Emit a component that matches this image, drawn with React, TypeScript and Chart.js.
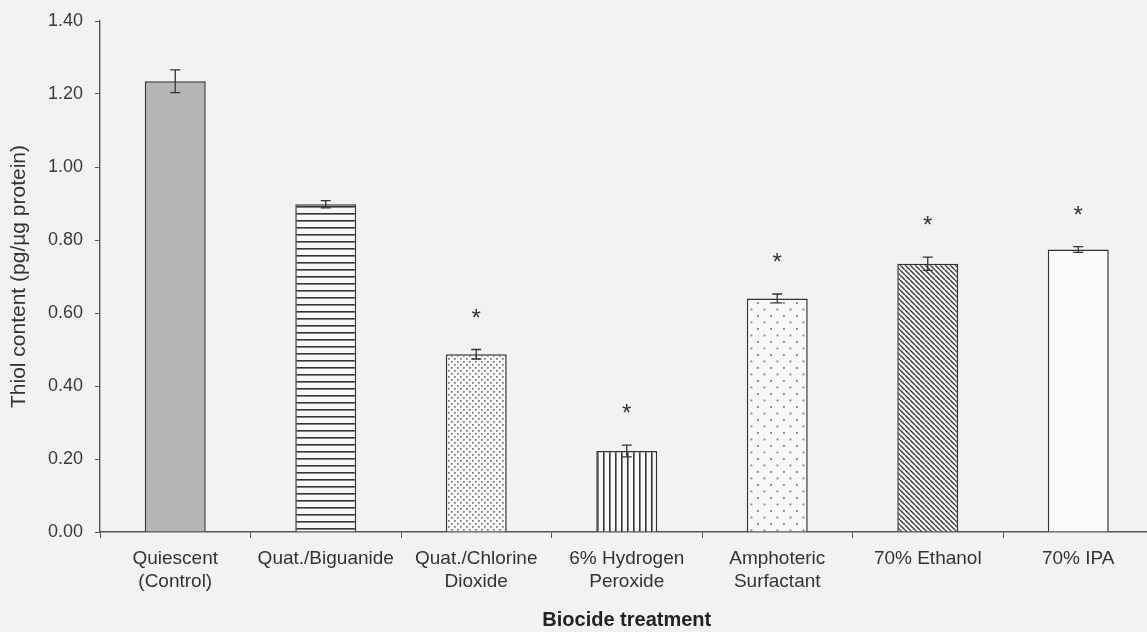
import { useEffect, useRef } from "react";
import { Chart, registerables } from "chart.js";
Chart.register(...registerables);

const categories: (string | string[])[] = [
  ["Quiescent", "(Control)"],
  "Quat./Biguanide",
  ["Quat./Chlorine", "Dioxide"],
  ["6% Hydrogen", "Peroxide"],
  ["Amphoteric", "Surfactant"],
  "70% Ethanol",
  "70% IPA",
];
const thiolMeans = [1.235, 0.898, 0.487, 0.222, 0.64, 0.735, 0.774];
const thiolErrors = [0.031, 0.01, 0.013, 0.016, 0.012, 0.018, 0.008];
const significant = [false, false, true, true, true, true, true];
const yAxisTitle = "Thiol content (pg/µg protein)";
const xAxisTitle = "Biocide treatment";

const FONT = "'Liberation Sans', Arial, sans-serif";

function tile(w: number, h: number, draw: (g: CanvasRenderingContext2D) => void) {
  const c = document.createElement("canvas");
  c.width = w;
  c.height = h;
  const g = c.getContext("2d")!;
  g.fillStyle = "#f8f8f8";
  g.fillRect(0, 0, w, h);
  draw(g);
  return g.createPattern(c, "repeat")!;
}

function makeFills() {
  const solid = "#b5b5b5";
  const hlines = tile(7, 7, (g) => {
    g.fillStyle = "#363636";
    g.fillRect(0, 3, 7, 1.6);
  });
  const denseDots = tile(6, 6, (g) => {
    g.fillStyle = "#777";
    g.fillRect(1, 1, 1.7, 1.7);
    g.fillRect(4, 4, 1.7, 1.7);
  });
  const vlines = tile(6, 6, (g) => {
    g.fillStyle = "#363636";
    g.fillRect(3, 0, 1.6, 6);
  });
  const sparseDots = tile(13, 13, (g) => {
    g.fillStyle = "#888";
    g.fillRect(3, 3, 1.9, 1.9);
    g.fillRect(9.5, 9.5, 1.9, 1.9);
  });
  const diag = tile(5, 5, (g) => {
    g.strokeStyle = "#3a3a3a";
    g.lineWidth = 1.4;
    for (const o of [-5, 0, 5]) {
      g.beginPath();
      g.moveTo(o, 0);
      g.lineTo(o + 5, 5);
      g.stroke();
    }
  });
  const white = "#fbfbfb";
  return [solid, hlines, denseDots, vlines, sparseDots, diag, white];
}

const errorBarPlugin = {
  id: "errorBarsStars",
  afterDatasetsDraw(chart: any) {
    const { ctx, scales } = chart;
    const meta = chart.getDatasetMeta(0);
    const y = scales.y;
    ctx.save();
    meta.data.forEach((bar: any, i: number) => {
      const x = bar.x;
      const top = y.getPixelForValue(thiolMeans[i] + thiolErrors[i]);
      const bot = y.getPixelForValue(thiolMeans[i] - thiolErrors[i]);
      ctx.strokeStyle = "#333";
      ctx.lineWidth = 1.3;
      ctx.beginPath();
      ctx.moveTo(x, top);
      ctx.lineTo(x, bot);
      ctx.moveTo(x - 5, top);
      ctx.lineTo(x + 5, top);
      ctx.moveTo(x - 5, bot);
      ctx.lineTo(x + 5, bot);
      ctx.stroke();
      if (significant[i]) {
        ctx.fillStyle = "#333";
        ctx.font = `24px ${FONT}`;
        ctx.textAlign = "center";
        ctx.textBaseline = "alphabetic";
        ctx.fillText("*", x, top - 24);
      }
    });
    ctx.restore();
  },
};

const bgPlugin = {
  id: "bg",
  beforeDraw(chart: any) {
    const { ctx, width, height } = chart;
    ctx.save();
    ctx.fillStyle = "#f2f2f1";
    ctx.fillRect(0, 0, width, height);
    ctx.restore();
  },
};

export default function App() {
  const ref = useRef<HTMLCanvasElement>(null);
  useEffect(() => {
    document.body.style.margin = "0";
    document.body.style.overflow = "hidden";
    document.body.style.background = "#f2f2f1";
    const canvas = ref.current!;
    const chart = new Chart(canvas, {
      type: "bar",
      data: {
        labels: categories,
        datasets: [
          {
            data: thiolMeans,
            backgroundColor: makeFills() as any,
            borderColor: "#333",
            borderWidth: 1.5,
            categoryPercentage: 1,
            barPercentage: 0.405,
          },
        ],
      },
      options: {
        responsive: false,
        animation: false,
        devicePixelRatio: 1,
        layout: { padding: { top: 19, right: 6.5, left: 0, bottom: 0 } },
        plugins: { legend: { display: false }, tooltip: { enabled: false } },
        scales: {
          x: {
            offset: true,
            grid: {
              offset: true,
              drawOnChartArea: false,
              drawTicks: true,
              tickLength: 6,
              color: "#555",
              lineWidth: 1,
            },
            border: { color: "#555", width: 1.4 },
            ticks: {
              color: "#333",
              padding: 9,
              maxRotation: 0,
              autoSkip: false,
              font: { family: FONT, size: 19, lineHeight: 1.22 },
            },
            title: {
              display: true,
              text: xAxisTitle,
              color: "#222",
              font: { family: FONT, size: 20, weight: "bold", lineHeight: 1.2 },
              padding: { top: 0, bottom: 0 },
            },
            afterFit: (s: any) => {
              s.height = 100;
            },
          },
          y: {
            min: 0,
            max: 1.4,
            grid: {
              drawOnChartArea: false,
              drawTicks: true,
              tickLength: 5,
              color: "#555",
            },
            border: { color: "#555", width: 1.4 },
            ticks: {
              stepSize: 0.2,
              color: "#3a3a3a",
              padding: 12,
              font: { family: FONT, size: 18, lineHeight: 1.0 },
              callback: (v: any) => Number(v).toFixed(2),
            },
            title: {
              display: true,
              text: yAxisTitle,
              color: "#333",
              font: { family: FONT, size: 21, lineHeight: 1.2 },
              padding: { top: 7, bottom: 0 },
            },
            afterFit: (s: any) => {
              s.width = 100;
            },
          },
        },
      },
      plugins: [bgPlugin, errorBarPlugin],
    });
    return () => chart.destroy();
  }, []);
  return (
    <div style={{ position: "absolute", left: 0, top: 0, width: 1160, height: 632 }}>
      <canvas ref={ref} width={1160} height={632} style={{ display: "block" }} />
    </div>
  );
}
